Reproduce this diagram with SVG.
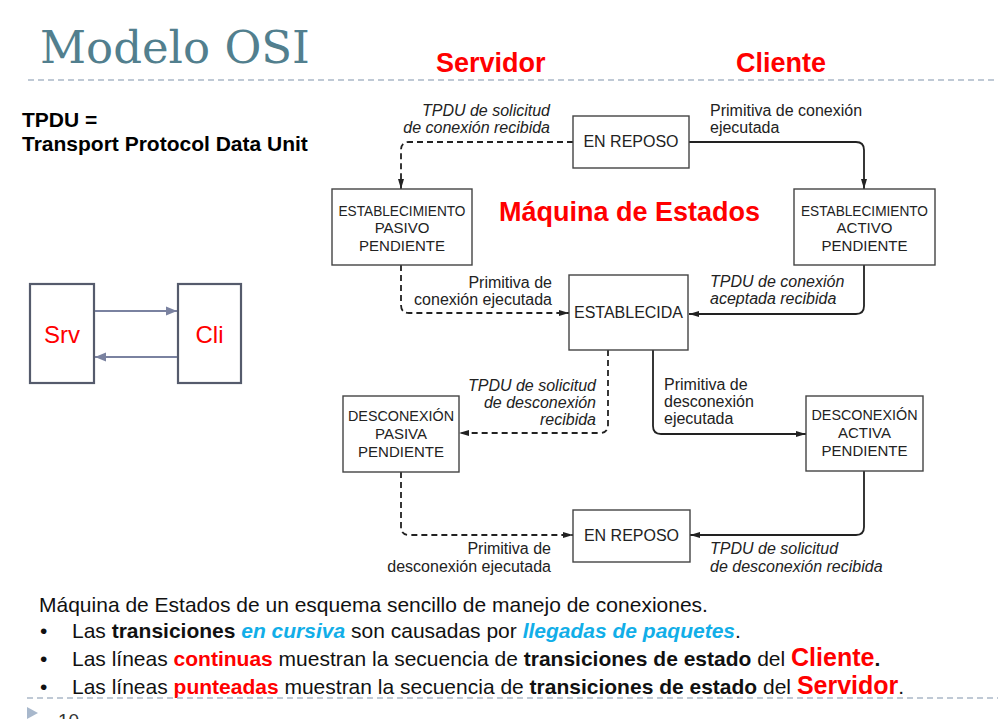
<svg xmlns="http://www.w3.org/2000/svg" width="998" height="719" viewBox="0 0 998 719">
<style>
.sans{font-family:"Liberation Sans",Arial,sans-serif}
.box{fill:#fff;stroke:#444;stroke-width:1.4}
.bt{font-family:"Liberation Sans",Arial,sans-serif;font-size:15px;fill:#222;text-anchor:middle}
.bt16{font-family:"Liberation Sans",Arial,sans-serif;font-size:16px;fill:#222;text-anchor:middle}
.lbl{font-family:"Liberation Sans",Arial,sans-serif;font-size:16px;fill:#222}
.it{font-style:italic}
.r{text-anchor:end}
.solid{fill:none;stroke:#222;stroke-width:1.8}
.dash{fill:none;stroke:#222;stroke-width:1.8;stroke-dasharray:6 4}
.sep{fill:none;stroke:#aab8c8;stroke-width:1.5;stroke-dasharray:6 4}
.red{fill:#ff0000}
.blue{fill:#12aee8;font-weight:bold;font-style:italic}
.b{font-weight:bold}
.body{font-family:"Liberation Sans",Arial,sans-serif;font-size:21px;fill:#111}
.sc{fill:#fff;stroke:#555b6c;stroke-width:2.2}
.scl{stroke:#7a82a0;stroke-width:1.8;fill:none}
</style>
<defs>
<marker id="ah" viewBox="0 0 10 8" refX="10" refY="4" markerWidth="10" markerHeight="8" markerUnits="userSpaceOnUse" orient="auto">
<path d="M0,1 L10,4 L0,7 z" fill="#222"/>
</marker>
<marker id="ah2" viewBox="0 0 10 10" refX="10" refY="5" markerWidth="11" markerHeight="11" markerUnits="userSpaceOnUse" orient="auto">
<path d="M0,1 L10,5 L0,9 z" fill="#7a82a0"/>
</marker>
</defs>
<rect width="998" height="719" fill="#fff"/>

<g id="header">
<text x="40" y="63" style="font-family:'DejaVu Serif',serif;font-size:45px;fill:#527f8e">Modelo OSI</text>
<line class="sep" x1="28" y1="80" x2="998" y2="80"/>
<text class="sans b red" x="436" y="72" style="font-size:27px">Servidor</text>
<text class="sans b red" x="736" y="72" style="font-size:27px">Cliente</text>
<text class="sans b" x="22" y="127" style="font-size:21px;fill:#000">TPDU =</text>
<text class="sans b" x="22" y="151" style="font-size:21px;fill:#000">Transport Protocol Data Unit</text>
<text class="sans b red" x="499" y="221" style="font-size:27px">Máquina de Estados</text>
</g>

<g id="srvcli">
<g id="srv"><rect class="sc" x="30" y="284" width="64" height="99"/><text class="sans red" x="62" y="343" text-anchor="middle" style="font-size:24px">Srv</text></g>
<g id="cli"><rect class="sc" x="178" y="284" width="63" height="99"/><text class="sans red" x="209.5" y="343" text-anchor="middle" style="font-size:24px">Cli</text></g>
<g id="srvcli-links">
<line class="scl" x1="95" y1="311" x2="177" y2="311" marker-end="url(#ah2)"/>
<line class="scl" x1="177" y1="357" x2="95" y2="357" marker-end="url(#ah2)"/>
</g>
</g>

<g id="connectors">
<path class="dash" d="M573,142 H409 Q401,142 401,150 V189" marker-end="url(#ah)"/>
<path class="solid" d="M689,142 H856 Q864,142 864,150 V189" marker-end="url(#ah)"/>
<path class="dash" d="M401,265 V305 Q401,313 409,313 H569" marker-end="url(#ah)"/>
<path class="solid" d="M864,265 V306 Q864,314 856,314 H689" marker-end="url(#ah)"/>
<path class="dash" d="M608,350 V425 Q608,433 600,433 H459" marker-end="url(#ah)"/>
<path class="solid" d="M653,350 V426 Q653,434 661,434 H806" marker-end="url(#ah)"/>
<path class="dash" d="M401,472 V527 Q401,535 409,535 H573" marker-end="url(#ah)"/>
<path class="solid" d="M864,471 V527 Q864,535 856,535 H690" marker-end="url(#ah)"/>
</g>

<g id="labels">
<text class="lbl it r" x="550" y="116">TPDU de solicitud</text>
<text class="lbl it r" x="550" y="133">de conexión recibida</text>
<text class="lbl" x="710" y="116">Primitiva de conexión</text>
<text class="lbl" x="710" y="133">ejecutada</text>
<text class="lbl r" x="552" y="288">Primitiva de</text>
<text class="lbl r" x="552" y="305">conexión ejecutada</text>
<text class="lbl it" x="710" y="287">TPDU de conexión</text>
<text class="lbl it" x="710" y="304">aceptada recibida</text>
<text class="lbl it r" x="596" y="391">TPDU de solicitud</text>
<text class="lbl it r" x="596" y="408">de desconexión</text>
<text class="lbl it r" x="596" y="425">recibida</text>
<text class="lbl" x="664" y="390">Primitiva de</text>
<text class="lbl" x="664" y="407">desconexión</text>
<text class="lbl" x="664" y="424">ejecutada</text>
<text class="lbl r" x="551" y="554">Primitiva de</text>
<text class="lbl r" x="551" y="572">desconexión ejecutada</text>
<text class="lbl it" x="710" y="554">TPDU de solicitud</text>
<text class="lbl it" x="710" y="572">de desconexión recibida</text>
</g>

<g id="reposo1"><rect class="box" x="573" y="116" width="116" height="52"/><text class="bt16" x="631" y="147">EN REPOSO</text></g>
<g id="estpasivo"><rect class="box" x="332" y="189" width="140" height="76"/>
<text class="bt" x="402" y="216" textLength="127" lengthAdjust="spacingAndGlyphs">ESTABLECIMIENTO</text>
<text class="bt" x="402" y="233">PASIVO</text>
<text class="bt" x="402" y="251">PENDIENTE</text></g>
<g id="estactivo"><rect class="box" x="794" y="189" width="141" height="76"/>
<text class="bt" x="864.5" y="216" textLength="127" lengthAdjust="spacingAndGlyphs">ESTABLECIMIENTO</text>
<text class="bt" x="864.5" y="233">ACTIVO</text>
<text class="bt" x="864.5" y="251">PENDIENTE</text></g>
<g id="establecida"><rect class="box" x="569" y="275" width="119" height="75"/><text class="bt16" x="628.5" y="318">ESTABLECIDA</text></g>
<g id="descpasiva"><rect class="box" x="343" y="396" width="116" height="76"/>
<text class="bt" x="401" y="421" textLength="106" lengthAdjust="spacingAndGlyphs">DESCONEXIÓN</text>
<text class="bt" x="401" y="439">PASIVA</text>
<text class="bt" x="401" y="457">PENDIENTE</text></g>
<g id="descactiva"><rect class="box" x="806" y="396" width="117" height="75"/>
<text class="bt" x="864.5" y="420" textLength="106" lengthAdjust="spacingAndGlyphs">DESCONEXIÓN</text>
<text class="bt" x="864.5" y="438">ACTIVA</text>
<text class="bt" x="864.5" y="456">PENDIENTE</text></g>
<g id="reposo2"><rect class="box" x="573" y="510" width="117" height="52"/><text class="bt16" x="631.5" y="541">EN REPOSO</text></g>

<g id="notes">
<text class="body" x="39" y="612">Máquina de Estados de un esquema sencillo de manejo de conexiones.</text>
<text class="body" x="40" y="638">•</text>
<text class="body" x="72" y="638">Las <tspan class="b">transiciones</tspan> <tspan class="blue">en cursiva</tspan> son causadas por <tspan class="blue">llegadas de paquetes</tspan>.</text>
<text class="body" x="40" y="666">•</text>
<text class="body" x="72" y="666">Las líneas <tspan class="b red">continuas</tspan> muestran la secuencia de <tspan class="b">transiciones de estado</tspan> del <tspan class="b red" style="font-size:25px">Cliente</tspan><tspan class="b">.</tspan></text>
<text class="body" x="40" y="694">•</text>
<text class="body" x="72" y="694">Las líneas <tspan class="b red">punteadas</tspan> muestran la secuencia de <tspan class="b">transiciones de estado</tspan> del <tspan class="b red" style="font-size:25px">Servidor</tspan>.</text>
<line class="sep" x1="27" y1="698" x2="998" y2="698"/>
<path d="M27,707 L38,713 L27,719 z" fill="#a8b8cc"/>
<text class="sans" x="58" y="727" style="font-size:19px;fill:#333">10</text>
</g>
</svg>
